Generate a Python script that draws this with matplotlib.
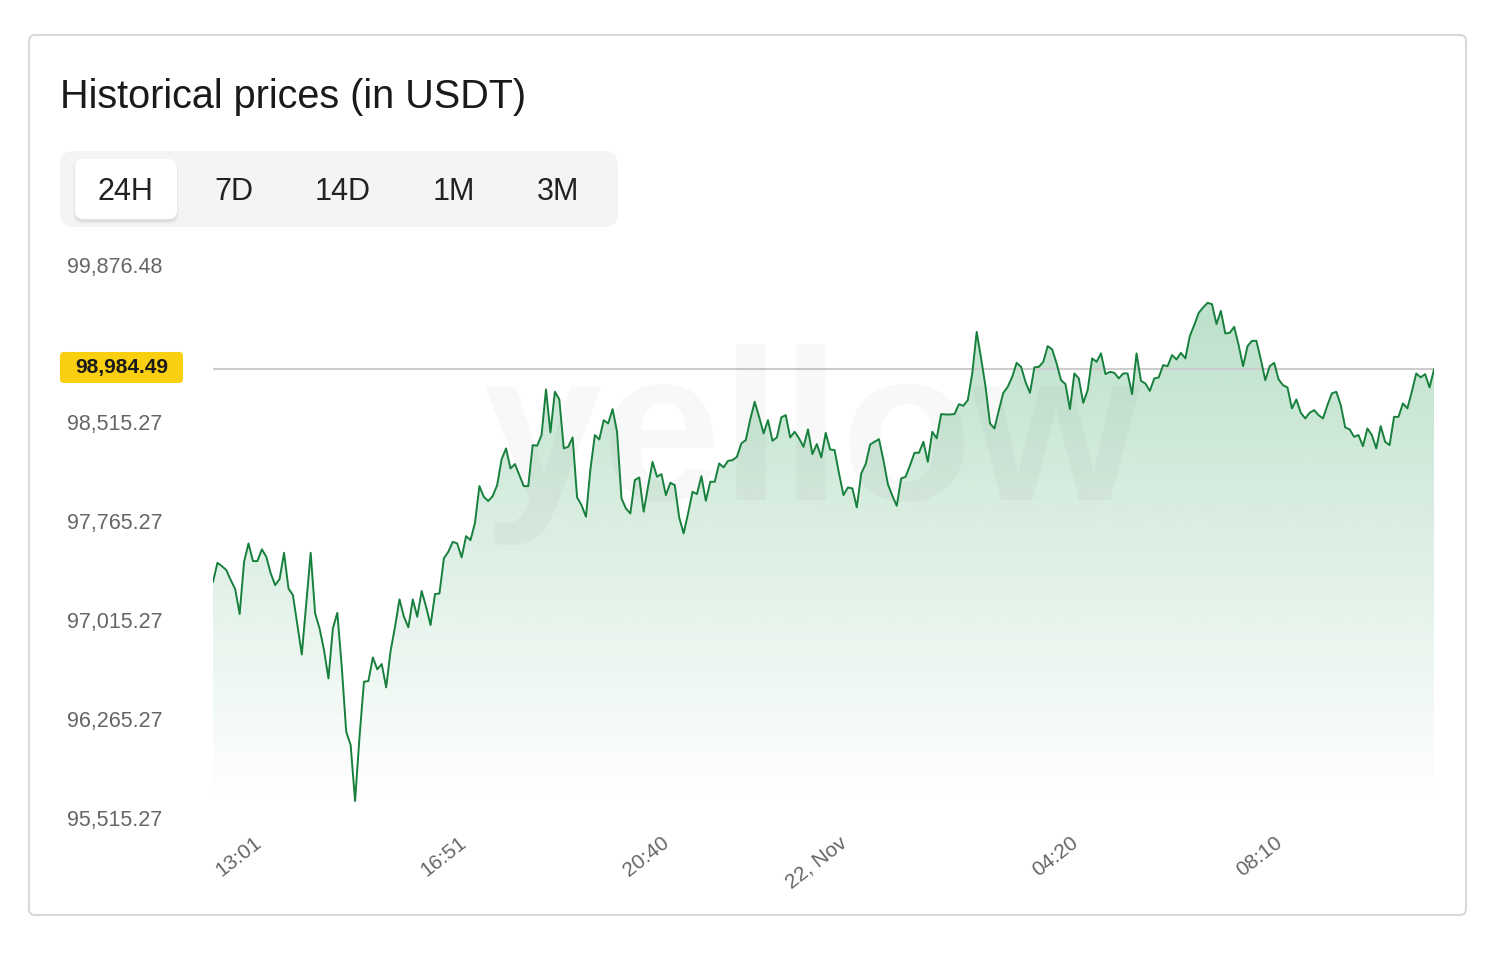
import numpy as np
import pandas as pd
import matplotlib
matplotlib.use("Agg")
import matplotlib.pyplot as plt
import matplotlib.dates as mdates
from matplotlib.patches import FancyBboxPatch, Polygon
from matplotlib.transforms import IdentityTransform, ScaledTranslation

# ----------------------------------
# Data
# ----------------------------------
prices = [
    97305, 97449, 97424, 97394, 97318, 97250, 97061, 97457, 97596, 97462,
    97462, 97551, 97495, 97369, 97280, 97326, 97525, 97255, 97204, 96977,
    96755, 97144, 97525, 97066, 96952, 96788, 96573, 96952, 97070, 96661,
    96169, 96068, 95644, 96131, 96548, 96553, 96732, 96642, 96682, 96505,
    96782, 96964, 97172,
    97040, 96960, 97172, 97040, 97235, 97116, 96977, 97212, 97217, 97483,
    97533, 97608, 97596, 97490, 97651, 97621, 97752, 98030, 97949, 97917,
    97955, 98038, 98233, 98316, 98164, 98197, 98114, 98030, 98030, 98341,
    98336, 98417, 98763, 98437, 98745, 98687, 98316, 98328, 98399, 97945,
    97886, 97798, 98157, 98417, 98384,
    98530, 98505, 98614, 98442, 97937, 97861, 97823, 98076, 98096, 97836,
    98030, 98214, 98101, 98121, 97962, 98055, 98038, 97793, 97672, 97823,
    97987, 97970, 98106, 97919, 98063, 98063, 98202, 98172, 98222, 98227,
    98252, 98354, 98379, 98536, 98669, 98555, 98430, 98530, 98374, 98399,
    98551, 98568, 98399, 98442, 98392, 98328, 98460, 98273, 98349, 98248,
    98434, 98308, 98303, 98126, 97962, 98020, 98013,
    97869, 98126, 98197, 98346, 98366, 98386, 98227, 98045, 97957, 97881,
    98089, 98101, 98189, 98283, 98283, 98366, 98214, 98442, 98392, 98576,
    98573, 98573, 98576, 98651, 98639, 98682, 98884, 99199, 98998, 98783,
    98505, 98467, 98606, 98737, 98783, 98858, 98964, 98934, 98820, 98737,
    98930, 98934, 98972, 99091, 99066, 98960, 98833, 98803, 98614, 98884,
    98846, 98661, 98758, 98998, 98972, 99036, 98879, 98896, 98889, 98846,
    98884, 98884, 98727, 99036, 98828, 98808,
    98752, 98846, 98854, 98947, 98939, 99023, 98990, 99040, 98998, 99167,
    99250, 99343, 99384, 99419, 99409, 99258, 99358, 99187, 99192, 99237,
    99098, 98939, 99091, 99131, 99131, 98990, 98833, 98939, 98964, 98839,
    98795, 98778, 98619, 98687, 98586, 98543, 98586, 98606, 98568, 98543,
    98644, 98733, 98745, 98644, 98475, 98460, 98404, 98417, 98333, 98467,
    98417, 98316, 98485, 98366, 98341, 98555, 98555, 98657, 98619, 98745,
    98884, 98854, 98879, 98778, 98914,
]
start_time = "2024-11-21 12:05"

tick_times = ["2024-11-21 13:01", "2024-11-21 16:51", "2024-11-21 20:40",
              "2024-11-22 00:00", "2024-11-22 04:20", "2024-11-22 08:10"]
tick_labels = ["13:01", "16:51", "20:40", "22, Nov", "04:20", "08:10"]

ytick_values = [95515.27, 96265.27, 97015.27, 97765.27, 98515.27, 99704.7]
ytick_labels = ["95,515.27", "96,265.27", "97,015.27", "97,765.27",
                "98,515.27", "99,876.48"]

current_price_label = "98,984.49"
ranges = ["24H", "7D", "14D", "1M", "3M"]
title = "Historical prices (in USDT)"

# ----------------------------------
# Figure setup (pixel based layout)
# ----------------------------------
W, H = 1500, 966
plt.rcParams["font.family"] = ["Liberation Sans", "DejaVu Sans"]

fig = plt.figure(figsize=(W / 100, H / 100), dpi=100)
fig.patch.set_facecolor("white")
px = IdentityTransform()


def box(x0, y0, x1, y1, r, z, **kw):
    # rectangle in image pixels (y measured from top)
    p = FancyBboxPatch((x0, H - y1), x1 - x0, y1 - y0,
                       boxstyle=f"round,pad=0,rounding_size={r}",
                       transform=px, zorder=z, **kw)
    fig.add_artist(p)
    return p


# card
box(29, 35, 1466, 915, 6, -5, fc="white", ec="#d9d9d9", lw=1.5)

fig.text(60, H - 97, title, transform=px, fontsize=28.5, color="#1a1a1a",
         ha="left", va="center")

# range selector
box(60, 151, 618, 227, 14, -4, fc="#f4f4f4", ec="none")
for k, a in enumerate([0.04, 0.03, 0.02]):
    box(75 - k, 161 - k, 177 + k, 222 + k, 8 + k, -3, fc="black",
        ec="none", alpha=a)
box(75, 159, 177, 219, 8, -2, fc="white", ec="none")
btn_x = [125, 234, 343, 454, 558]
for lab, bx in zip(ranges, btn_x):
    fig.text(bx, H - 192, lab, transform=px, fontsize=22, color="#222222",
             ha="center", va="center")

# ----------------------------------
# Price chart
# ----------------------------------
dates = pd.date_range(start_time, periods=len(prices), freq="5min")
xn = mdates.date2num(dates)
ymin, ymax = min(prices), max(prices)

ax = fig.add_axes([213 / W, 1 - 818 / H, 1221 / W, (818 - 265) / H])
ax.patch.set_alpha(0)
for s in ax.spines.values():
    s.set_visible(False)

ax.plot(dates, prices, color="#17803d", lw=1.4, zorder=3)

# gradient fill under the line
grad = np.linspace(1, 0, 256)[:, None]
rgba = np.zeros((256, 1, 4))
rgba[..., 0] = 46 / 255
rgba[..., 1] = 160 / 255
rgba[..., 2] = 90 / 255
rgba[..., 3] = 0.32 * grad
im = ax.imshow(rgba, extent=[xn[0], xn[-1], ymin, ymax], aspect="auto",
               origin="upper", zorder=1)
poly = Polygon(np.column_stack([np.r_[xn[0], xn, xn[-1]],
                                np.r_[ymin, prices, ymin]]),
               closed=True, fc="none", ec="none", transform=ax.transData)
ax.add_patch(poly)
im.set_clip_path(poly)

ax.axhline(prices[-1], color="#cccccc", lw=1.5, zorder=2)

ax.set_xlim(xn[0], xn[-1])
ax.set_ylim(ytick_values[0], ytick_values[-1] + 1)

ax.set_xticks(mdates.date2num(pd.to_datetime(tick_times)), tick_labels)
ax.tick_params(axis="x", length=0, pad=11, labelsize=15, labelcolor="#666666")
shift = ScaledTranslation(-9 / 100, 0, fig.dpi_scale_trans)
for lab in ax.get_xticklabels():
    lab.set_rotation(38)
    lab.set_ha("right")
    lab.set_va("top")
    lab.set_rotation_mode("anchor")
    lab.set_transform(lab.get_transform() + shift)

ax.set_yticks(ytick_values, ytick_labels)
ax.tick_params(axis="y", length=0, pad=146 * 0.72, labelsize=15.5,
               labelcolor="#666666")
for lab in ax.get_yticklabels():
    lab.set_ha("left")

# watermark
ax.text(482, H - 500, "yellow", transform=px, fontsize=155,
        fontweight="bold", color="black", alpha=0.028, ha="left",
        va="baseline", zorder=2)

# current price tag
yc = ax.transData.transform((xn[-1], prices[-1]))[1] + 2
fig.add_artist(FancyBboxPatch((60, yc - 15.5), 123, 31,
                              boxstyle="round,pad=0,rounding_size=4",
                              transform=px, fc="#f9cf10", ec="none",
                              zorder=4))
fig.text(121.5, yc, current_price_label, transform=px, fontsize=15,
         fontweight="bold", color="#1a1a1a", ha="center", va="center",
         zorder=5)

fig.savefig("out.png", dpi=100, facecolor="white")
